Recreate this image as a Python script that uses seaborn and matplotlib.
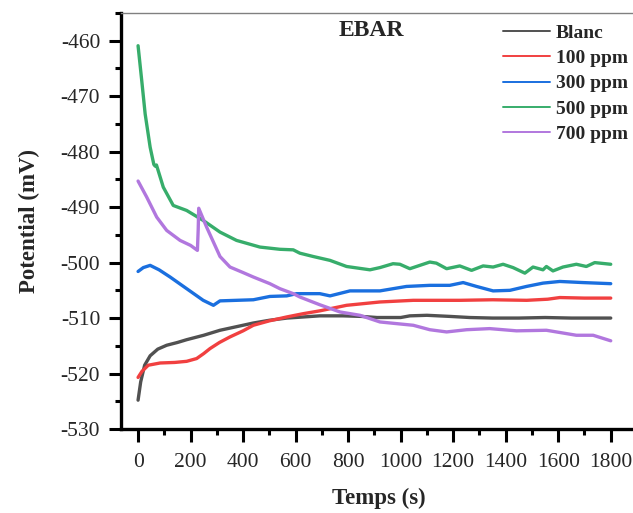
import matplotlib
matplotlib.use("Agg")
import matplotlib.pyplot as plt
from matplotlib.ticker import MultipleLocator
import pandas as pd
import seaborn as sns

# Open-circuit potential vs time for EBAR inhibitor concentrations
blanc_t = [0, 10, 25, 46, 75, 109, 150, 185, 250, 312, 380, 438, 500, 567, 630, 692,
           780, 850, 910, 1000, 1035, 1100, 1187, 1263, 1350, 1450, 1550, 1650, 1750, 1800]
blanc_v = [-524.8, -521.5, -518.5, -516.8, -515.6, -514.9, -514.4, -513.9, -513.1, -512.2,
           -511.5, -510.9, -510.4, -510.0, -509.8, -509.6, -509.6, -509.7, -509.9, -509.9,
           -509.6, -509.5, -509.7, -509.9, -510.0, -510.0, -509.9, -510.0, -510.0, -510.0]

ppm100_t = [0, 15, 39, 84, 140, 185, 223, 250, 274, 310, 350, 400, 439, 500, 566, 630,
            692, 794, 921, 1048, 1225, 1350, 1480, 1560, 1606, 1700, 1800]
ppm100_v = [-520.7, -519.6, -518.5, -518.1, -518.0, -517.8, -517.3, -516.4, -515.5, -514.4,
            -513.4, -512.3, -511.3, -510.5, -509.8, -509.2, -508.7, -507.7, -507.1, -506.8,
            -506.8, -506.7, -506.8, -506.6, -506.3, -506.4, -506.4]

ppm300_t = [0, 20, 46, 80, 122, 185, 248, 287, 312, 375, 439, 502, 566, 604, 692, 731,
            807, 921, 1022, 1111, 1187, 1238, 1289, 1352, 1416, 1479, 1542, 1606, 1694, 1800]
ppm300_v = [-501.6, -500.9, -500.5, -501.3, -502.6, -504.7, -506.8, -507.7, -506.9, -506.8,
            -506.7, -506.1, -506.0, -505.6, -505.6, -506.0, -505.1, -505.1, -504.3, -504.1,
            -504.1, -503.6, -504.3, -505.1, -505.0, -504.3, -503.7, -503.4, -503.6, -503.8]

ppm500_t = [0, 14, 27, 46, 60, 65, 70, 96, 134, 185, 248, 312, 375, 464, 540, 591, 616,
            667, 731, 794, 883, 921, 971, 997, 1035, 1073, 1111, 1136, 1175, 1225, 1270,
            1314, 1352, 1390, 1428, 1473, 1504, 1542, 1555, 1580, 1618, 1669, 1707, 1739, 1800]
ppm500_v = [-460.9, -467.2, -473.2, -479.2, -482.3, -482.6, -482.4, -486.4, -489.7, -490.6,
            -492.4, -494.5, -496.0, -497.2, -497.6, -497.7, -498.3, -498.9, -499.6, -500.7,
            -501.3, -500.9, -500.2, -500.3, -501.1, -500.5, -499.9, -500.1, -501.1, -500.6,
            -501.4, -500.6, -500.8, -500.3, -500.9, -501.9, -500.8, -501.3, -500.7, -501.5,
            -500.8, -500.3, -500.7, -500.0, -500.3]

ppm700_t = [0, 33, 71, 109, 160, 200, 226, 229, 231, 261, 312, 350, 400, 439, 502, 540,
            591, 616, 692, 769, 845, 921, 984, 1048, 1111, 1175, 1251, 1339, 1441, 1555,
            1606, 1669, 1733, 1800]
ppm700_v = [-485.3, -488.2, -491.8, -494.2, -496.0, -496.9, -497.8, -494.0, -490.2, -493.6,
            -498.9, -500.8, -501.8, -502.6, -503.8, -504.7, -505.6, -506.2, -507.6, -508.9,
            -509.5, -510.7, -511.0, -511.3, -512.1, -512.5, -512.1, -511.9, -512.3, -512.2,
            -512.6, -513.1, -513.1, -514.1]

labels = ["Blanc", "100 ppm", "300 ppm", "500 ppm", "700 ppm"]
colors = ["#515151", "#F14040", "#1A6FDF", "#37AD6B", "#B177DE"]
series = [(blanc_t, blanc_v), (ppm100_t, ppm100_v), (ppm300_t, ppm300_v),
          (ppm500_t, ppm500_v), (ppm700_t, ppm700_v)]

frames = [pd.DataFrame({"t": t, "E": v, "serie": lab}) for lab, (t, v) in zip(labels, series)]
df = pd.concat(frames, ignore_index=True)

sns.set_theme(style="white")
plt.rcParams["font.family"] = ["Liberation Serif", "DejaVu Serif"]
plt.rcParams["axes.unicode_minus"] = False

fig = plt.figure(figsize=(6.33, 5.13), dpi=100)
ax = fig.add_axes([121 / 633, 84 / 513, 516 / 633, 416 / 513])

sns.lineplot(data=df, x="t", y="E", hue="serie", hue_order=labels, palette=colors,
             estimator=None, sort=False, linewidth=2.4, ax=ax)

ax.set_xlim(-65, 1900)
ax.set_ylim(-530, -455)
ax.xaxis.set_major_locator(MultipleLocator(200))
ax.xaxis.set_minor_locator(MultipleLocator(100))
ax.yaxis.set_major_locator(MultipleLocator(10))
ax.yaxis.set_minor_locator(MultipleLocator(5))
ax.tick_params(axis="both", which="major", direction="out", length=9, width=2.2,
               color="black", labelsize=15.5, pad=6, bottom=True, left=True)
ax.tick_params(axis="both", which="minor", direction="out", length=4.5, width=2.2,
               color="black", bottom=True, left=True)
ax.tick_params(axis="x", which="major", pad=8)

for side in ("left", "bottom"):
    ax.spines[side].set_color("black")
    ax.spines[side].set_linewidth(2.4)
ax.spines["top"].set_color("#808080")
ax.spines["top"].set_linewidth(1.0)
ax.spines["right"].set_visible(False)

ax.set_xlabel("Temps (s)", fontsize=16.5, fontweight="bold", labelpad=12)
ax.set_ylabel("Potential (mV)", fontsize=16.5, fontweight="bold", labelpad=15)

ax.text(887, -458.2, "EBAR", fontsize=17, fontweight="bold", ha="center", va="center")

leg = ax.legend(loc="upper left", bbox_to_anchor=(503 / 633, 1 - 24 / 513),
                bbox_transform=fig.transFigure, frameon=False, borderpad=0,
                borderaxespad=0, handlelength=2.4, handletextpad=0.3,
                labelspacing=0.4, prop={"weight": "bold", "size": 14})
for h in leg.legend_handles:
    h.set_linewidth(1.4)

fig.savefig("out.png", dpi=100)
